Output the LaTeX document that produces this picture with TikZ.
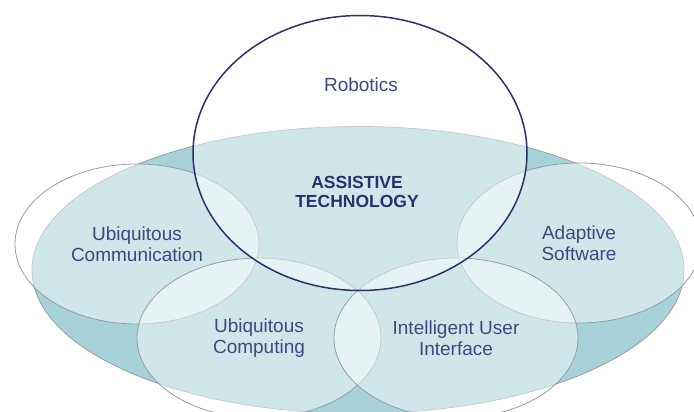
\documentclass[tikz,border=0pt]{standalone}
\usepackage{fontspec}
\setmainfont{Liberation Sans}
\usetikzlibrary{shapes.geometric,positioning}
\definecolor{basin}{RGB}{168,210,217}
\definecolor{rim}{RGB}{148,158,166}
\definecolor{navy}{RGB}{42,48,112}
\definecolor{labelc}{RGB}{62,72,128}

\begin{document}
\begin{tikzpicture}[x=1pt,y=-1pt,line width=0.8pt]
  \tikzstyle{area}=[ellipse,draw=rim,fill=white,fill opacity=0.47,text opacity=1,
    text=labelc,align=center,font=\fontsize{19}{21}\selectfont,
    minimum width=244pt,minimum height=160pt,inner sep=0pt]

  \clip (0,0) rectangle (694,412);

  \node[ellipse,draw=rim,fill=basin,minimum width=652pt,minimum height=287pt] (base) at (358,270) {};

  \node[area] (comm)  at (137,244) {Ubiquitous\\Communication};
  \node[area] (soft)  at (579,243) {Adaptive\\Software};
  \node[area] (comp)  at (259,338) {Ubiquitous\\Computing};
  \node[area] (iface) at (456,338) {Intelligent User\\Interface};

  \node[ellipse,draw=navy,line width=1.5pt,fill=white,fill opacity=0.47,
    minimum width=334pt,minimum height=275pt] (robo) at (360,153) {};

  \node[text=labelc,font=\fontsize{19}{21}\selectfont] (robolbl) at (361,85) {Robotics};
  \node[text=navy,align=center,font=\fontsize{17.5}{19.5}\selectfont\bfseries] (assist) at (357,192) {ASSISTIVE\\TECHNOLOGY};
\end{tikzpicture}
\end{document}
